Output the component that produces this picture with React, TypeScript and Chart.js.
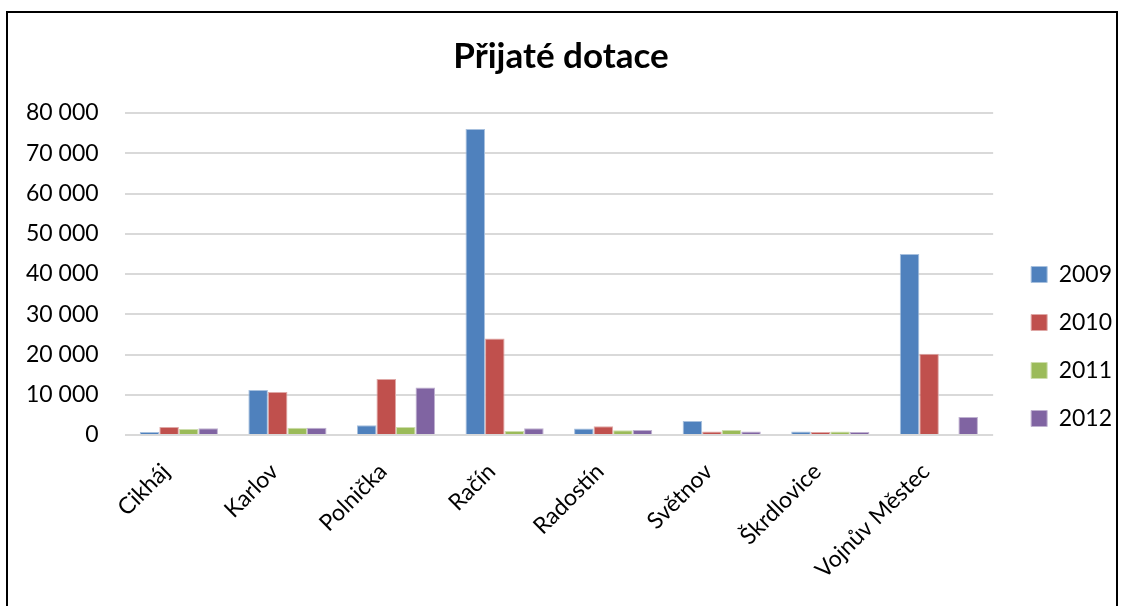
import React, { useEffect, useRef } from "react";
import { Chart, registerables } from "chart.js";

Chart.register(...registerables);

const categories = ["Cikháj", "Karlov", "Polnička", "Račín", "Radostín", "Světnov", "Škrdlovice", "Vojnův Městec"];
const years = ["2009", "2010", "2011", "2012"];
const values2009 = [750, 11200, 2400, 76000, 1600, 3500, 900, 45000];
const values2010 = [2000, 10700, 13900, 24000, 2200, 900, 750, 20200];
const values2011 = [1500, 1800, 2000, 1000, 1200, 1250, 900, 0];
const values2012 = [1650, 1800, 11800, 1650, 1250, 900, 750, 4500];
const colors = ["#4F81BD", "#C0504D", "#9BBB59", "#8064A2"];
const borders = ["#A7C0DE", "#DFA8A6", "#CDDDAC", "#BFB1D0"];
const yMax = 80000;
const yStep = 10000;
const title = "Přijaté dotace";

const fmt = (v: number) => String(v).replace(/\B(?=(\d{3})+(?!\d))/g, " ");

export default function App() {
  const ref = useRef<HTMLCanvasElement>(null);
  useEffect(() => {
    const series = [values2009, values2010, values2011, values2012];
    const chart = new Chart(ref.current!, {
      type: "bar",
      data: {
        labels: categories,
        datasets: series.map((d, i) => ({
          label: years[i],
          data: d,
          backgroundColor: colors[i],
          borderColor: borders[i],
          borderWidth: 1,
          categoryPercentage: 0.72,
          barPercentage: 1,
          yAxisID: "y",
        })),
      },
      options: {
        animation: false,
        responsive: false,
        devicePixelRatio: 1,
        layout: { padding: { left: 0, top: 0, right: 2, bottom: 0 } },
        plugins: {
          title: {
            display: true,
            text: title,
            color: "#000",
            font: { family: "Lato", size: 35, weight: "bold" },
            padding: { top: 36, bottom: 35 },
          },
          legend: {
            position: "right",
            title: { display: true, text: " ", font: { size: 10 }, padding: { top: 75, bottom: 0 } },
            labels: {
              color: "#000",
              font: { family: "Lato", size: 23 },
              boxWidth: 16,
              boxHeight: 16,
              padding: 25,
            },
          },
          tooltip: { enabled: false },
        },
        scales: {
          x: {
            grid: { display: false },
            border: { display: false },
            ticks: {
              color: "#000",
              font: { family: "Lato", size: 23 },
              minRotation: 45,
              maxRotation: 45,
              padding: 15,
              labelOffset: -13,
            },
            afterFit: (s: any) => {
              s.height = 171;
            },
          },
          y: {
            min: 0,
            max: yMax,
            grid: { color: "#D9D9D9", lineWidth: 2, drawTicks: false },
            border: { display: false },
            ticks: {
              stepSize: yStep,
              color: "#000",
              font: { family: "Lato", size: 23 },
              padding: 26,
              callback: (v: any) => fmt(Number(v)),
            },
          },
          gap: {
            position: "right",
            display: true,
            grid: { display: false },
            border: { display: false },
            ticks: { display: false },
            afterFit: (s: any) => {
              s.width = 13;
            },
          },
        },
      },
    });
    return () => chart.destroy();
  }, []);
  return (
    <div style={{ position: "fixed", left: 0, top: 0, width: 1124, height: 606, background: "#fff", overflow: "hidden" }}>
      <div style={{ position: "absolute", left: 6, top: 11, width: 1112, height: 700, border: "2px solid #000", boxSizing: "border-box" }} />
      <canvas ref={ref} width={1124} height={606} style={{ position: "absolute", left: 0, top: 0 }} />
    </div>
  );
}
